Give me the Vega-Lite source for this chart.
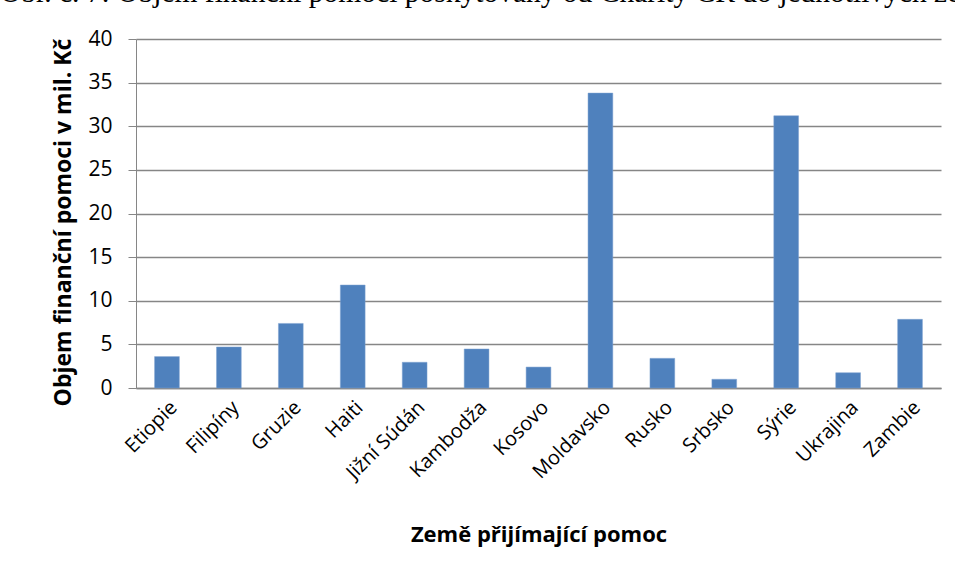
{
  "$schema": "https://vega.github.io/schema/vega-lite/v6.json",
  "autosize": "none",
  "width": 805,
  "height": 349,
  "padding": {"left": 136, "top": 39, "right": 14, "bottom": 191},
  "background": "white",
  "title": {
    "text": "Obr. č. 7: Objem finanční pomoci poskytovaný od Charity ČR do jednotlivých zemí",
    "anchor": "start",
    "frame": "group",
    "dx": -136,
    "dy": 23,
    "offset": 20,
    "baseline": "alphabetic",
    "font": "Liberation Serif",
    "fontSize": 29.5,
    "fontWeight": "normal",
    "color": "#000000"
  },
  "data": {
    "values": [
      {"zeme": "Etiopie", "objem": 3.6},
      {"zeme": "Filipíny", "objem": 4.7},
      {"zeme": "Gruzie", "objem": 7.4},
      {"zeme": "Haiti", "objem": 11.8},
      {"zeme": "Jižní Súdán", "objem": 2.95},
      {"zeme": "Kambodža", "objem": 4.47},
      {"zeme": "Kosovo", "objem": 2.4},
      {"zeme": "Moldavsko", "objem": 33.8},
      {"zeme": "Rusko", "objem": 3.4},
      {"zeme": "Srbsko", "objem": 1.0},
      {"zeme": "Sýrie", "objem": 31.2},
      {"zeme": "Ukrajina", "objem": 1.75},
      {"zeme": "Zambie", "objem": 7.87}
    ]
  },
  "mark": {"type": "bar", "color": "#4F81BD", "stroke": "#7FA3D0", "strokeWidth": 0.5},
  "encoding": {
    "x": {
      "field": "zeme",
      "type": "nominal",
      "sort": null,
      "scale": {"paddingInner": 0.6, "paddingOuter": 0.3},
      "axis": {
        "title": "Země přijímající pomoc",
        "titleFont": "Open Sans",
        "titleFontSize": 22,
        "titleFontWeight": "bold",
        "titleColor": "#000000",
        "titlePadding": 42,
        "labelAngle": -45,
        "labelFont": "Open Sans",
        "labelFontSize": 20,
        "labelColor": "#000000",
        "labelPadding": 9,
        "ticks": false,
        "domainColor": "#868686",
        "domainWidth": 1.5
      }
    },
    "y": {
      "field": "objem",
      "type": "quantitative",
      "scale": {"domain": [0, 40], "nice": false},
      "axis": {
        "title": "Objem finanční pomoci v mil. Kč",
        "titleFont": "Open Sans",
        "titleFontSize": 23,
        "titleFontWeight": "bold",
        "titleColor": "#000000",
        "titlePadding": 12,
        "titleY": 183,
        "values": [0, 5, 10, 15, 20, 25, 30, 35, 40],
        "labelFont": "Open Sans",
        "labelFontSize": 21,
        "labelColor": "#000000",
        "labelPadding": 16,
        "tickSize": 8,
        "tickColor": "#868686",
        "domainColor": "#868686",
        "gridColor": "#868686",
        "gridWidth": 1.3,
        "gridOpacity": 1
      }
    }
  },
  "config": {"view": {"stroke": null}}
}
